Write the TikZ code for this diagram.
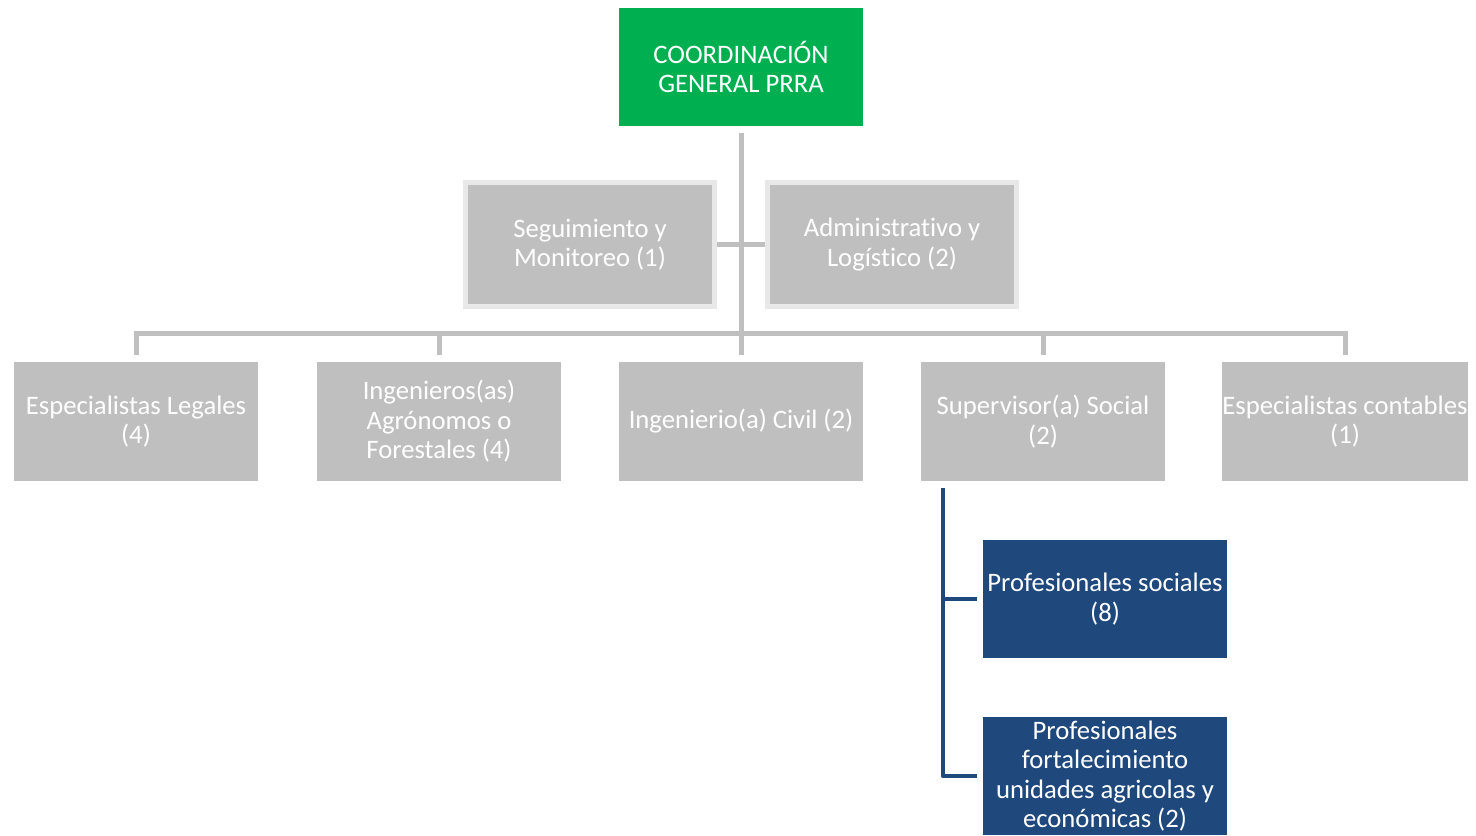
\documentclass[tikz,border=0pt]{standalone}
\usepackage{fontspec}
\setmainfont[Ligatures={NoCommon,NoContextual,NoRare}]{Carlito}
\usetikzlibrary{backgrounds}
\definecolor{grn}{HTML}{00B050}
\definecolor{gbox}{HTML}{BFBFBF}
\definecolor{gline}{HTML}{BFBFBF}
\definecolor{gbord}{HTML}{E8E8E8}
\definecolor{bbox}{HTML}{1F497D}
\begin{document}
\begin{tikzpicture}[x=0.75pt,y=-0.75pt,
  box/.style={rectangle, minimum width=183pt, minimum height=89.25pt, inner sep=0pt,
    align=center, font=\fontsize{20}{22.1}\selectfont, text=white},
  topbox/.style={box, fill=grn, minimum height=88.5pt},
  graybox/.style={box, fill=gbox},
  midbox/.style={box, fill=gbox, draw=gbord, line width=3.75pt, minimum width=186.75pt, minimum height=93pt},
  bluebox/.style={box, fill=bbox, minimum height=88.5pt},
  gconn/.style={draw=gline, line width=3.75pt},
  bconn/.style={draw=bbox, line width=3pt, line join=round}]
\useasboundingbox (0,0) rectangle (1476,835);
\node[topbox] (top) at (741,67) {COORDINACIÓN\\GENERAL PRRA};
\node[midbox] (seg) at (590,244.5) {Seguimiento y\\Monitoreo (1)};
\node[midbox] (adm) at (892,244.5) {Administrativo y\\Logístico (2)};
\node[graybox] (leg) at (136,421.5) {Especialistas Legales\\(4)};
\node[graybox] (ing) at (439,421.5) {Ingenieros(as)\\Agrónomos o\\Forestales (4)};
\node[graybox] (civ) at (741,421.5) {Ingenierio(a) Civil (2)};
\node[graybox] (sup) at (1043,421.5) {Supervisor(a) Social\\(2)};
\node[graybox] (cont) at (1345,421.5) {Especialistas contables\\(1)};
\node[bluebox] (ps1) at (1105,599) {Profesionales sociales\\(8)};
\node[bluebox] (ps2) at (1105,776) {Profesionales\\fortalecimiento\\unidades agricolas y\\económicas (2)};
\coordinate (hub) at (741,333);
\coordinate (bt) at ([xshift=16.5pt,yshift=-5.25pt]sup.south west);
\begin{scope}[on background layer]
\draw[gconn] ([yshift=-5.25pt]top.south) -- ([yshift=5.25pt]civ.north);
\draw[gconn] (seg) -- (adm);
\draw[gconn] ([yshift=5.25pt]leg.north) -- (leg.north |- hub) -- (cont.north |- hub) -- ([yshift=5.25pt]cont.north);
\draw[gconn] (ing.north |- hub) -- ([yshift=5.25pt]ing.north);
\draw[gconn] (sup.north |- hub) -- ([yshift=5.25pt]sup.north);
\draw[bconn] (bt) |- ([xshift=-4.5pt]ps2.west);
\draw[bconn] (bt |- ps1.west) -- ([xshift=-4.5pt]ps1.west);
\end{scope}
\end{tikzpicture}
\end{document}
